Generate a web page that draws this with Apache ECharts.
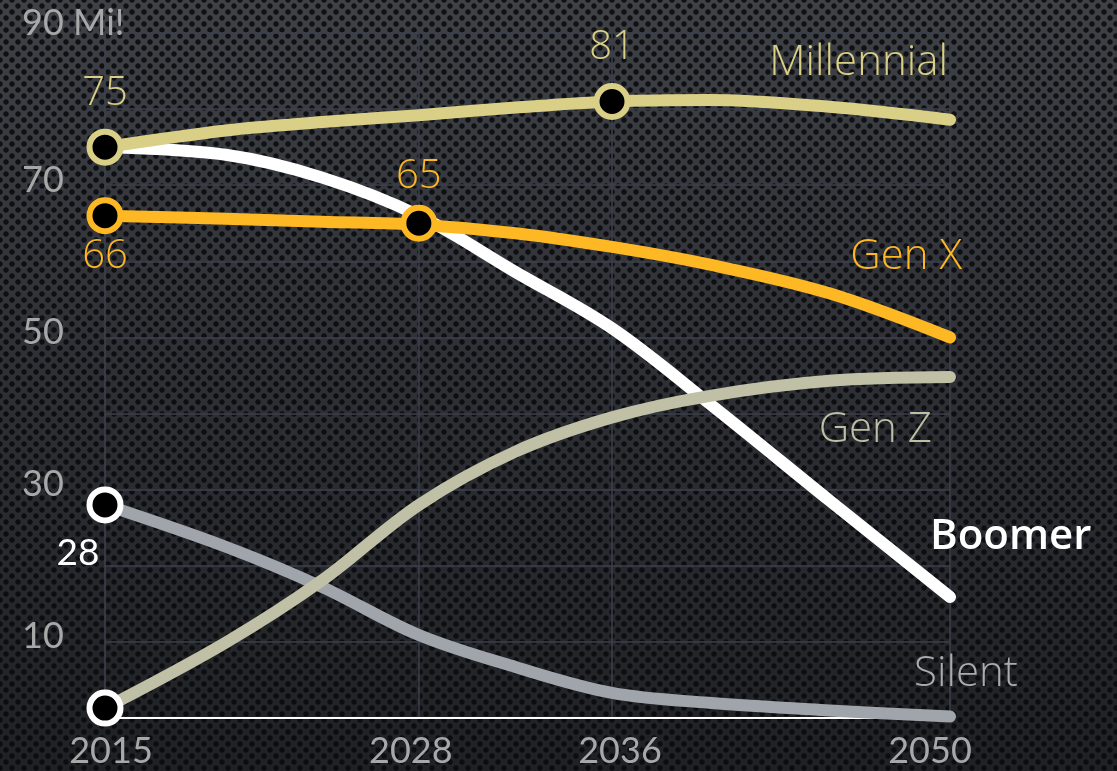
<!DOCTYPE html>
<html>
<head>
<meta charset="utf-8">
<script src="https://cdn.jsdelivr.net/npm/echarts@6/dist/echarts.min.js"></script>
<style>
  html, body { margin: 0; padding: 0; }
  body {
    width: 1117px; height: 771px; overflow: hidden;
    background:
      radial-gradient(circle, rgba(8,9,11,0.85) 0, rgba(8,9,11,0.85) 2.3px, rgba(8,9,11,0) 3.1px) 0 0 / 12px 12px,
      radial-gradient(circle, rgba(8,9,11,0.85) 0, rgba(8,9,11,0.85) 2.3px, rgba(8,9,11,0) 3.1px) 6px 6px / 12px 12px,
      linear-gradient(#3e4146 0%, #2f3136 45%, #1f2125 100%);
  }
  #chart { width: 1117px; height: 771px; }
</style>
</head>
<body>
<div id="chart"></div>
<script>
// years read along the x axis, values in millions
const years = [2015, 2020, 2024, 2028, 2032, 2036, 2040, 2045, 2050];
const millennial = [75, 77.2, 78.3, 79.2, 80.2, 81, 81.2, 80.3, 78.6];
const genX = [66, 65.6, 65.2, 64.8, 63.7, 61.9, 59.6, 55.8, 50];
const boomer = [75, 74, 71, 66, 58.6, 51.2, 41.4, 28.6, 15.9];
const genZ = [1.3, 9.9, 18.1, 28, 35, 39.5, 42.3, 44.3, 44.8];
const silent = [28, 22.5, 17.2, 10.9, 6.7, 3.3, 2.0, 1.0, 0.2];

// highlighted points
const millennialMarks = [[2015, 75], [2036, 81]];
const genXMarks = [[2015, 66], [2028, 65]];
const silentMarks = [[2015, 28]];
const genZMarks = [[2015, 1.3]];

const axisYears = [2015, 2028, 2036, 2050];
const yLabelValues = [10, 30, 50, 70, 90];

const LABEL_FONT = "'Open Sans', sans-serif";
const AXIS_FONT = "Lato, sans-serif";

const pair = (arr) => years.map((y, i) => [y, arr[i]]);
const last = (arr) => arr[arr.length - 1];

function lineSeries(name, arr, color, z) {
  return {
    name: name,
    type: "line",
    data: pair(arr),
    smooth: 0.35,
    showSymbol: false,
    silent: true,
    z: z,
    lineStyle: { width: 12, color: color, cap: "round", join: "round" },
  };
}

function markSeries(data, border, z) {
  return {
    type: "scatter",
    data: data,
    symbol: "circle",
    symbolSize: 31,
    z: z,
    itemStyle: { color: "#000", borderColor: border, borderWidth: 6, opacity: 1 },
  };
}

function valueLabel(color, dx, dy, font) {
  return {
    show: true,
    position: "inside",
    align: "center",
    verticalAlign: "middle",
    offset: [dx, dy],
    color: color,
    opacity: 1,
    fontFamily: font || LABEL_FONT,
    fontWeight: 300,
    fontSize: 40,
    formatter: (p) => String(p.value[1]),
  };
}

// series name labels sitting near the end of each line
const endNames = [
  { name: "Millennial", value: last(millennial), color: "#d9cf86", align: "right", dx: -2, dy: -57, weight: 300 },
  { name: "Gen X", value: last(genX), color: "#fdb824", align: "right", dx: 12, dy: -80, weight: 300 },
  { name: "Gen Z", value: last(genZ), color: "#bfbfa5", align: "right", dx: -18, dy: 53, weight: 300 },
  { name: "Boomer", value: last(boomer), color: "#ffffff", align: "left", dx: -20, dy: -60, weight: 600 },
  { name: "Silent", value: last(silent), color: "#a9acb0", align: "left", dx: -36, dy: -42, weight: 300 },
];

// the year labels are nudged a little off their grid lines in the original
const yearNudge = { 2015: "a", 2028: "b", 2036: "c", 2050: "d" };

const chart = echarts.init(document.getElementById("chart"), null, { renderer: "canvas" });

const yearText = { fontFamily: AXIS_FONT, fontSize: 36, color: "#a8a8a8" };

const option = {
  backgroundColor: "transparent",
  animation: false,
  grid: { left: 105, right: 167, top: 33, bottom: 53, outerBoundsMode: "none", containLabel: false },
  xAxis: {
    type: "value",
    min: 2015,
    max: 2050,
    axisLine: { show: true, lineStyle: { color: "#ffffff", width: 2 } },
    axisTick: { show: false, customValues: axisYears },
    axisLabel: {
      customValues: axisYears,
      color: "#a8a8a8",
      fontFamily: AXIS_FONT,
      fontSize: 36,
      margin: 15,
      formatter: (v) => "{" + yearNudge[v] + "|" + v + "}",
      rich: {
        a: Object.assign({ padding: [0, 0, 0, 12] }, yearText),
        b: Object.assign({ padding: [0, 16, 0, 0] }, yearText),
        c: Object.assign({ padding: [0, 0, 0, 16] }, yearText),
        d: Object.assign({ padding: [0, 40, 0, 0] }, yearText),
      },
    },
    splitLine: { show: true, lineStyle: { color: "#3b404d", width: 1.5 } },
  },
  yAxis: {
    type: "value",
    min: 0,
    max: 90,
    interval: 10,
    axisLine: { show: false },
    axisTick: { show: false },
    axisLabel: {
      customValues: yLabelValues,
      align: "left",
      margin: 83,
      color: "#a8a8a8",
      fontFamily: AXIS_FONT,
      fontSize: 36,
      formatter: (v) => (v === 90 ? "{t|" + v + " Mi!}" : "{n|" + v + "}"),
      rich: {
        t: { fontFamily: AXIS_FONT, fontSize: 36, color: "#a8a8a8", padding: [0, 0, 20, 0] },
        n: { fontFamily: AXIS_FONT, fontSize: 36, color: "#a8a8a8", padding: [0, 0, 10, 0] },
      },
    },
    splitLine: { show: true, lineStyle: { color: "#3b404d", width: 1.5 } },
  },
  series: [
    lineSeries("Silent", silent, "#a0a5ab", 2),
    lineSeries("Boomer", boomer, "#ffffff", 3),
    lineSeries("Gen Z", genZ, "#c0c0a6", 4),
    lineSeries("Gen X", genX, "#fdb824", 5),
    lineSeries("Millennial", millennial, "#d9cf86", 6),
    Object.assign(markSeries(millennialMarks, "#d9cf86", 10), {
      label: valueLabel("#d9cf86", 0, -54),
    }),
    markSeries(genXMarks.map((d, i) => ({
      value: d,
      label: i === 0 ? valueLabel("#fdb824", 0, 41) : valueLabel("#fdb824", 0, -47),
    })), "#fdb824", 10),
    Object.assign(markSeries(silentMarks, "#ffffff", 10), {
      label: Object.assign(valueLabel("#ffffff", -27, 48, AXIS_FONT), { fontWeight: 400, fontSize: 37 }),
    }),
    markSeries(genZMarks, "#ffffff", 10),
    {
      type: "scatter",
      symbol: "circle",
      symbolSize: 1,
      z: 12,
      itemStyle: { color: "rgba(0,0,0,0)", opacity: 1 },
      data: endNames.map((n) => ({
        value: [2050, n.value],
        label: {
          show: true,
          position: "inside",
          align: n.align,
          verticalAlign: "middle",
          offset: [n.dx, n.dy],
          color: n.color,
          opacity: 1,
          fontFamily: LABEL_FONT,
          fontWeight: n.weight,
          fontSize: 42,
          formatter: n.name,
        },
      })),
    },
  ],
};

chart.setOption(option);
</script>
</body>
</html>
